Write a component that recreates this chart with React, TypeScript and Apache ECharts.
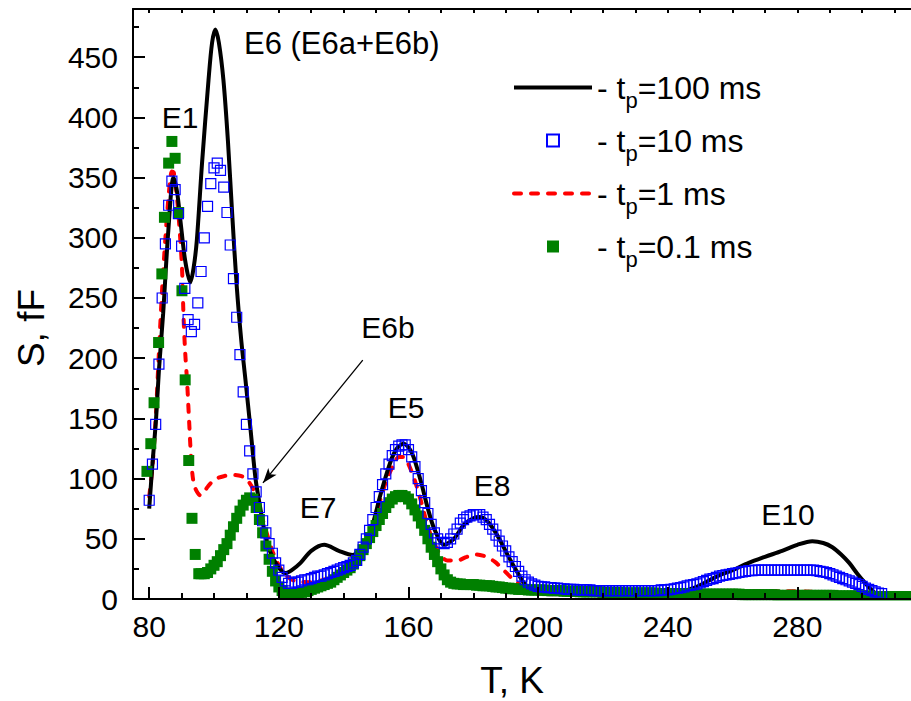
import React, { useEffect, useRef } from 'react';
import * as echarts from 'echarts';

const FONT = '"Liberation Sans", Arial, Helvetica, sans-serif';

// t_p = 100 ms (solid black line)
const blackT = [80, 81, 82.1, 83, 84.3, 85.9, 87.5, 88.6, 89.6, 91.1, 92.7, 93.7, 94.7, 96.3, 98.3, 99.4, 100.4, 101.5, 102.9, 104.3, 105.6, 107, 108.4, 109.7, 111.3, 112.8, 114, 115.3, 116.6, 118, 120, 122, 124, 126.7, 130, 134, 138.5, 142.8, 146, 148.4, 151.5, 154.6, 156.7, 158.6, 160.5, 161.7, 163.9, 166, 168, 171, 174, 177.2, 180, 181.9, 184.5, 187.6, 190.7, 193, 196, 199, 203, 210, 218.7, 226, 234, 240, 244.4, 249.6, 254.6, 260, 265, 270, 275.3, 280, 284.6, 288, 290.8, 293.5, 296, 298.5, 301, 303.5, 305.7, 307];
const blackS = [75, 112, 149, 190, 237, 306, 350, 338, 315, 281, 263, 275, 298, 362, 431, 462, 473, 462, 431, 380, 320, 260, 215, 182, 140, 100, 80, 60, 45, 35, 26, 21.5, 24, 30, 40, 45, 40, 36.5, 45, 57, 88, 115, 126, 129, 124, 117, 97, 75, 58, 45, 50, 62, 67, 68, 64, 52, 36, 25, 12, 6, 4, 4, 5, 3.5, 2, 3, 6, 11, 18, 24, 30, 35, 40, 45, 48, 46.5, 43, 37, 30, 21, 13, 6, 1, -2];

// t_p = 10 ms (open blue squares), one point per kelvin from BLUE_T0
const BLUE_T0 = 80;
const blueS = [
  82, 112, 145, 195, 250, 295, 327, 347, 340, 320,
  293, 258, 232, 222, 228, 246, 272, 300, 326, 345,
  358, 362, 356, 342, 321, 294, 266, 234, 203, 172,
  145, 123, 104, 89, 76, 65, 55, 46, 38, 30,
  24, 18, 15, 13, 13, 14, 14, 15, 16, 16,
  17, 18, 19, 19, 20, 21, 22, 23, 24, 25,
  26, 27, 28, 30, 32, 37, 43, 50, 57, 66,
  76, 85, 95, 104, 112, 119, 124, 127, 128, 128,
  124, 118, 110, 100, 90, 80, 71, 62, 55, 50,
  47, 46, 47, 50, 54, 58, 63, 66, 68, 69,
  70, 70, 70, 68, 66, 62, 58, 53, 48, 44,
  40, 35, 31, 27, 23, 19, 16, 14, 12.5, 11.5,
  10.5, 10, 10, 9.5, 9.5, 9, 9, 8.5, 8.5, 8,
  8, 8, 7.5, 7.5, 7.5, 7.5, 7.5, 7, 7, 7,
  7, 7, 7, 7, 7, 7, 7, 7, 7, 7,
  7, 7, 7, 7, 7, 7, 7, 7, 7.5, 7.5,
  7.5, 8, 8.5, 9, 9.5, 10, 11, 11.5, 12, 12.5,
  13.5, 14.5, 15.5, 16.5, 17, 18, 19, 19.5, 20, 20.5,
  21, 21.5, 22, 22.5, 23, 23.5, 23.5, 24, 24, 24,
  24, 24, 24, 24, 24, 24, 24, 24, 24, 24,
  24, 24, 24, 24, 24, 24, 23.5, 23, 22.5, 22,
  21, 20, 19, 18, 17, 16, 15, 14, 13, 12,
  10.5, 9, 8, 7, 6, 5, 4.5,
];

// t_p = 1 ms (red dashed line)
const redT = [80, 81, 82, 83, 84, 85, 86, 87, 87.6, 88.5, 89.1, 90.1, 90.6, 91.1, 91.7, 92.2, 92.9, 93.5, 94.2, 95.8, 98, 100, 103, 106, 108.5, 110.2, 112.3, 114, 116, 118, 120, 122, 125, 130, 135, 140, 144, 147, 150, 153, 155.5, 157, 158.5, 160, 162, 164, 166, 168, 170, 172, 175, 178, 181, 184, 186.6, 189, 191.8, 194.3, 197, 200, 210, 220, 230, 240, 250, 255, 265, 275, 285, 292, 300, 310, 320];
const redS = [85, 110, 150, 205, 258, 300, 335, 355, 354, 335, 317, 276, 234, 205, 180, 154, 118, 100, 92, 86, 93, 99, 102, 103, 102, 99, 90, 75, 57, 40, 28, 20, 15, 14, 17, 22, 30, 45, 70, 97, 112, 118, 118, 112, 98, 80, 60, 46, 36, 32, 32, 35, 37, 35, 31, 25, 17.5, 12, 8, 6, 5, 4.5, 4, 4, 5, 6, 6.5, 6.5, 6, 5, 3.5, 3, 3];

// t_p = 0.1 ms (filled green squares)
const greenEarlyT = [79.3, 80.5, 81.5, 82.9, 83.9, 84.7, 86, 87, 88, 89.1, 90.1, 91.1, 92.2, 93.2, 94.2, 95.3];
const greenEarlyS = [106, 129, 163, 213, 270, 317, 362, 380, 366, 321, 256, 182, 115, 67, 37, 21];
const GREEN_T0 = 96;
const greenS = [
  21, 21, 22, 25,
  28, 31, 36, 41, 46, 53, 60, 67, 73, 78,
  82, 84, 83, 76, 66, 55, 44, 33, 23, 15,
  10, 7, 5, 4, 4, 4.5, 5, 5.5, 6, 7,
  8, 9, 10, 11, 12, 13, 14, 16, 18, 20,
  22, 24, 26, 29, 32, 36, 41, 46, 51, 56,
  61, 66, 71, 76, 80, 83, 85, 86, 86, 85,
  83, 79, 74, 69, 63, 57, 50, 43, 37, 31,
  25, 20, 16, 14, 13, 12.5, 12.5, 12, 12, 12,
  12, 11.5, 11.5, 11, 11, 11, 10.5, 10, 10, 9.5,
  9, 9, 8.5, 8.5, 8, 8, 8, 7.5, 7.5, 7.5,
  7.5, 7.5, 7.5, 7, 7, 7, 7, 7, 6.5, 6.5,
  6.5, 6.5, 6.5, 6, 6, 6, 6, 6, 6, 6,
  5.5, 5.5, 5.5, 5.5, 5.5, 5.5, 5, 5, 5, 5,
  5, 5, 5, 5, 5, 5, 5, 4.5, 4.5, 4.5,
  4.5, 4.5, 4.5, 4.5, 4.5, 4.5, 4.5, 4.5, 4, 4,
  4, 4, 4, 4, 4, 4, 4, 4, 4, 4,
  4, 4, 4, 3.5, 3.5, 3.5, 3.5, 3.5, 3.5, 3.5,
  3.5, 3.5, 3.5, 3.5, 3, 3, 3, 3, 3, 3,
  3, 3, 3, 3, 3, 3, 3, 3, 3, 3,
  3, 3, 2.5, 2.5, 2.5, 2.5, 2.5, 2.5, 2.5, 2.5,
  2.5, 2.5, 2.5, 2, 2, 2, 2, 2, 2, 2,
  2, 2, 2, 2, 2, 2, 2,
];

// Axis ticks
const xMajor = [80, 120, 160, 200, 240, 280];
const xMinor = [80, 90, 100, 110, 120, 130, 140, 150, 160, 170, 180, 190, 200, 210, 220, 230, 240, 250, 260, 270, 280, 290, 300, 310];
const yMajor = [0, 50, 100, 150, 200, 250, 300, 350, 400, 450];
const yMinor = [25, 75, 125, 175, 225, 275, 325, 375, 425, 475];

// Annotations
const peakLabels = [
  { text: 'E1', x: 180, y: 117, align: 'center', size: 30 },
  { text: 'E6 (E6a+E6b)', x: 244, y: 43, align: 'left', size: 31 },
  { text: 'E6b', x: 388, y: 327, align: 'center', size: 30 },
  { text: 'E5', x: 406, y: 407, align: 'center', size: 30 },
  { text: 'E7', x: 318, y: 507, align: 'center', size: 30 },
  { text: 'E8', x: 492, y: 485, align: 'center', size: 30 },
  { text: 'E10', x: 788, y: 514, align: 'center', size: 30 },
];
const arrowFrom = [145.9, 198.4];
const arrowTo = [115.1, 96.4];

const legendNames = ['100 ms', '10 ms', '1 ms', '0.1 ms'];

const CHART_W = 940;
const CHART_H = 701;
const SQUARE_ICON = 'path://M0,0L10,0L10,10L0,10Z';

export default function App() {
  const ref = useRef<HTMLDivElement>(null);
  useEffect(() => {
    if (!ref.current) return;
    const chart = echarts.init(ref.current, null, { renderer: 'svg' });
    const zip = (t: number[], s: number[]) => t.map((v, i) => [v, s[i]]);
    const blueData = blueS.map((v, i) => [BLUE_T0 + i, v]);
    const greenData = zip(greenEarlyT, greenEarlyS).concat(greenS.map((v, i) => [GREEN_T0 + i, v]));
    const lineCol = '#000';
    const tickStyle = { color: lineCol, width: 2 };
    const baseX = { type: 'value', min: 75, max: 320, z: 10, splitLine: { show: false } };
    const baseY = { type: 'value', min: 0, max: 490, z: 10, splitLine: { show: false } };
    const hiddenSymbol = { color: 'rgba(0,0,0,0)', borderColor: 'rgba(0,0,0,0)', borderWidth: 0, opacity: 0 };

    const option: any = {
      animation: false,
      backgroundColor: '#fff',
      textStyle: { fontFamily: FONT },
      grid: { left: 133, top: 9, right: CHART_W - 927, bottom: CHART_H - 599, containLabel: false },
      xAxis: [
        {
          ...baseX, position: 'bottom',
          axisLine: { show: true, onZero: false, lineStyle: tickStyle },
          axisTick: { show: true, inside: true, length: 12, lineStyle: tickStyle, customValues: xMajor },
          axisLabel: { show: true, customValues: xMajor, fontSize: 30, color: '#000', fontFamily: FONT, margin: 12 },
        },
        {
          ...baseX, position: 'bottom',
          axisLine: { show: false, onZero: false },
          axisTick: { show: true, inside: true, length: 6, lineStyle: tickStyle, customValues: xMinor },
          axisLabel: { show: false },
        },
        {
          ...baseX, position: 'top',
          axisLine: { show: true, onZero: false, lineStyle: tickStyle },
          axisTick: { show: true, inside: true, length: 4, lineStyle: tickStyle, customValues: xMinor },
          axisLabel: { show: false },
        },
      ],
      yAxis: [
        {
          ...baseY, position: 'left',
          axisLine: { show: true, onZero: false, lineStyle: tickStyle },
          axisTick: { show: true, inside: true, length: 12, lineStyle: tickStyle, customValues: yMajor },
          axisLabel: { show: true, customValues: yMajor, fontSize: 30, color: '#000', fontFamily: FONT, margin: 15 },
        },
        {
          ...baseY, position: 'left',
          axisLine: { show: false, onZero: false },
          axisTick: { show: true, inside: true, length: 6, lineStyle: tickStyle, customValues: yMinor },
          axisLabel: { show: false },
        },
      ],
      legend: {
        orient: 'vertical',
        left: 512,
        top: 64,
        padding: 0,
        itemWidth: 78,
        itemHeight: 12,
        itemGap: 6,
        selectedMode: false,
        symbolKeepAspect: true,
        lineStyle: { width: 4 },
        data: [
          { name: legendNames[0], itemStyle: hiddenSymbol, lineStyle: { width: 4, color: '#000' } },
          { name: legendNames[1], icon: SQUARE_ICON },
          { name: legendNames[2], itemStyle: hiddenSymbol, lineStyle: { width: 4, color: '#ff0000', type: [7, 10], cap: 'round' } },
          { name: legendNames[3], icon: SQUARE_ICON },
        ],
        formatter: (name: string) => '- t{p|p}=' + name,
        textStyle: {
          fontFamily: FONT,
          fontSize: 32,
          lineHeight: 47,
          color: '#000',
          rich: {
            p: { fontFamily: FONT, fontSize: 22, lineHeight: 22, verticalAlign: 'bottom', color: '#000' },
          },
        },
      },
      series: [
        {
          name: '0.1 ms', type: 'scatter', data: greenData,
          symbol: 'rect', symbolSize: 11,
          itemStyle: { color: '#008000', opacity: 1 },
          z: 2,
        },
        {
          name: '10 ms', type: 'scatter', data: blueData,
          symbol: 'rect', symbolSize: 10,
          itemStyle: { color: 'rgba(255,255,255,0)', borderColor: '#0000ff', borderWidth: 1.2, opacity: 1 },
          z: 2,
        },
        {
          name: '1 ms', type: 'line', data: zip(redT, redS), smooth: 0.3,
          symbol: 'none', showSymbol: false,
          lineStyle: { color: '#ff0000', width: 4, type: [7, 10], cap: 'round' },
          itemStyle: { color: '#ff0000' },
          z: 2,
        },
        {
          name: '100 ms', type: 'line', data: zip(blackT, blackS), smooth: 0.3,
          symbol: 'none', showSymbol: false,
          lineStyle: { color: '#000', width: 4 },
          itemStyle: { color: '#000' },
          z: 2,
          markLine: {
            silent: true,
            symbol: ['none', 'arrow'],
            symbolSize: [8, 15],
            label: { show: false },
            lineStyle: { color: '#000', width: 1.3, type: 'solid' },
            emphasis: { disabled: true },
            data: [[{ coord: arrowFrom }, { coord: arrowTo }]],
          },
        },
      ],
      graphic: [
        {
          type: 'rect', z: 5, silent: true,
          shape: { x: 0, y: 600.5, width: CHART_W, height: CHART_H - 600 },
          style: { fill: '#fff' },
        },
        ...peakLabels.map((p) => ({
          type: 'text', x: p.x, y: p.y, z: 20,
          style: { text: p.text, fontSize: p.size, fontFamily: FONT, fill: '#000', align: p.align, verticalAlign: 'middle' },
        })),
        {
          type: 'text', x: 512, y: 680, z: 20,
          style: { text: 'T, K', fontSize: 37, fontFamily: FONT, fill: '#000', align: 'center', verticalAlign: 'middle' },
        },
        {
          type: 'text', x: 31, y: 328, z: 20, rotation: Math.PI / 2,
          style: { text: 'S, fF', fontSize: 37, fontFamily: FONT, fill: '#000', align: 'center', verticalAlign: 'middle' },
        },
      ],
    };
    chart.setOption(option);
    return () => chart.dispose();
  }, []);
  return (
    <div style={{ position: 'fixed', left: 0, top: 0, width: 911, height: 701, overflow: 'hidden', background: '#fff' }}>
      <div ref={ref} style={{ width: CHART_W, height: CHART_H }} />
    </div>
  );
}
